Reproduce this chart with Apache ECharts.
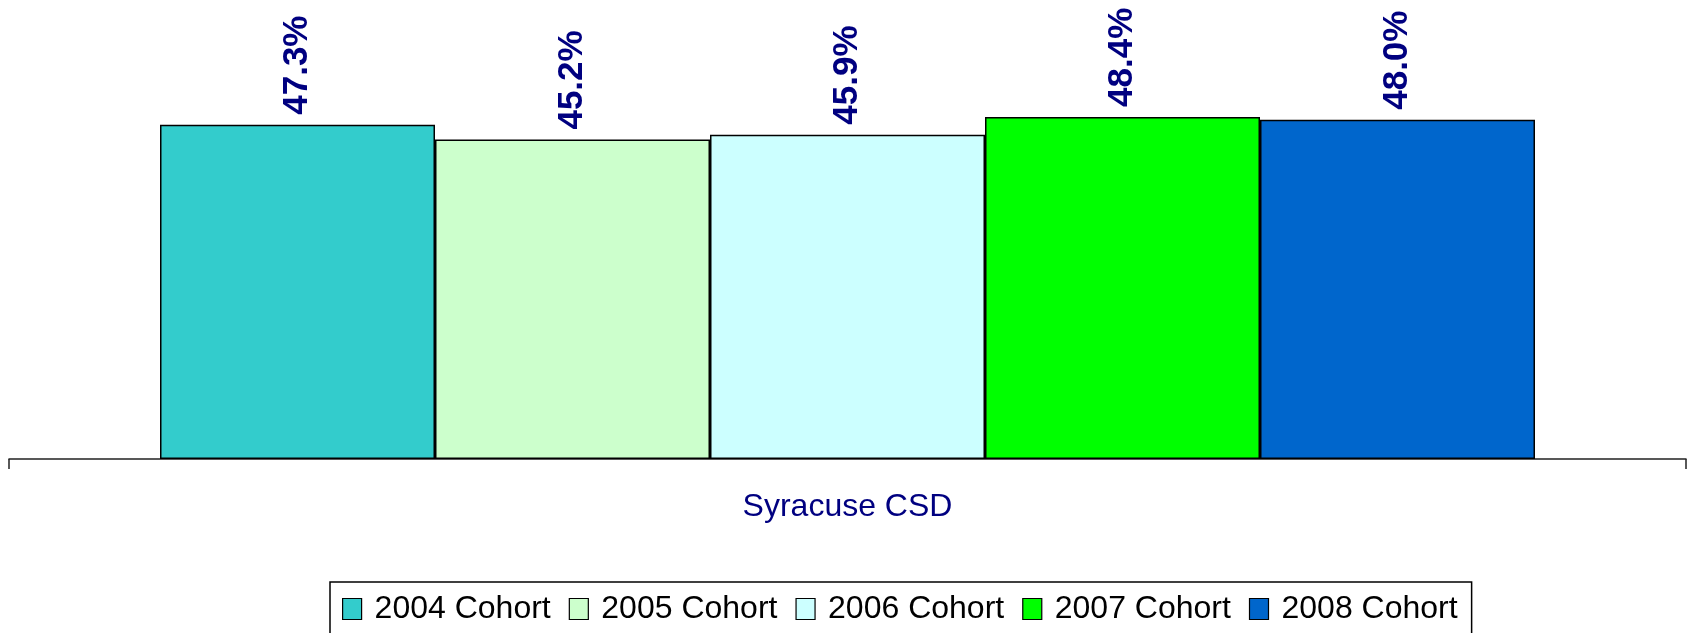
<!DOCTYPE html>
<html>
<head>
<meta charset="utf-8">
<title>Syracuse CSD cohorts</title>
<script src="https://cdn.jsdelivr.net/npm/echarts@6/dist/echarts.min.js"></script>
<style>
    html, body { margin: 0; padding: 0; background: #fff; }
    #chart_con { width: 1692px; height: 633px; }
</style>
</head>
<body>
<div id="chart_con"></div>
<script>
// chart data
var categories = ['Syracuse CSD'];
var cohortNames = ['2004 Cohort', '2005 Cohort', '2006 Cohort', '2007 Cohort', '2008 Cohort'];
var cohortValues = [47.3, 45.2, 45.9, 48.4, 48.0];
var cohortColors = ['#33CCCC', '#CCFFCC', '#CCFFFF', '#00FF00', '#0066CC'];

var chart = echarts.init(document.getElementById('chart_con'));

var series = cohortNames.map(function (name, i) {
    return {
        name: name,
        type: 'bar',
        barWidth: 275,
        barGap: '0%',
        data: [cohortValues[i]],
        itemStyle: {
            color: cohortColors[i],
            borderColor: '#000',
            borderWidth: 1.5
        },
        label: {
            show: true,
            position: 'top',
            rotate: 90,
            align: 'left',
            verticalAlign: 'middle',
            distance: 10,
            fontFamily: 'Liberation Sans',
            fontSize: 35,
            fontWeight: 'bold',
            color: '#000080',
            formatter: function (p) {
                return p.value.toFixed(1) + '%';
            }
        }
    };
});

var option = {
    animation: false,
    grid: {
        left: 9,
        right: 6,
        top: 35,
        bottom: 174
    },
    legend: {
        data: cohortNames,
        left: 330,
        top: 582,
        icon: 'rect',
        itemWidth: 19,
        itemHeight: 21,
        itemGap: 18,
        padding: [11, 14, 40, 12],
        borderColor: '#000',
        borderWidth: 1.5,
        textStyle: {
            fontFamily: 'Liberation Sans',
            fontSize: 32,
            color: '#000',
            padding: [0, 0, 0, 8]
        },
        itemStyle: {
            borderColor: '#000',
            borderWidth: 1.2
        }
    },
    xAxis: {
        type: 'category',
        data: categories,
        axisLine: { lineStyle: { color: '#222', width: 1.5 } },
        axisTick: { show: true, length: 10, lineStyle: { color: '#222', width: 1.5 } },
        axisLabel: {
            margin: 32,
            fontFamily: 'Liberation Sans',
            fontSize: 32,
            color: '#000080'
        }
    },
    yAxis: {
        type: 'value',
        min: 0,
        max: 60,
        show: false,
        splitLine: { show: false }
    },
    series: series
};

chart.setOption(option);
window.addEventListener('resize', function () {
    chart.resize();
});
</script>
</body>
</html>
